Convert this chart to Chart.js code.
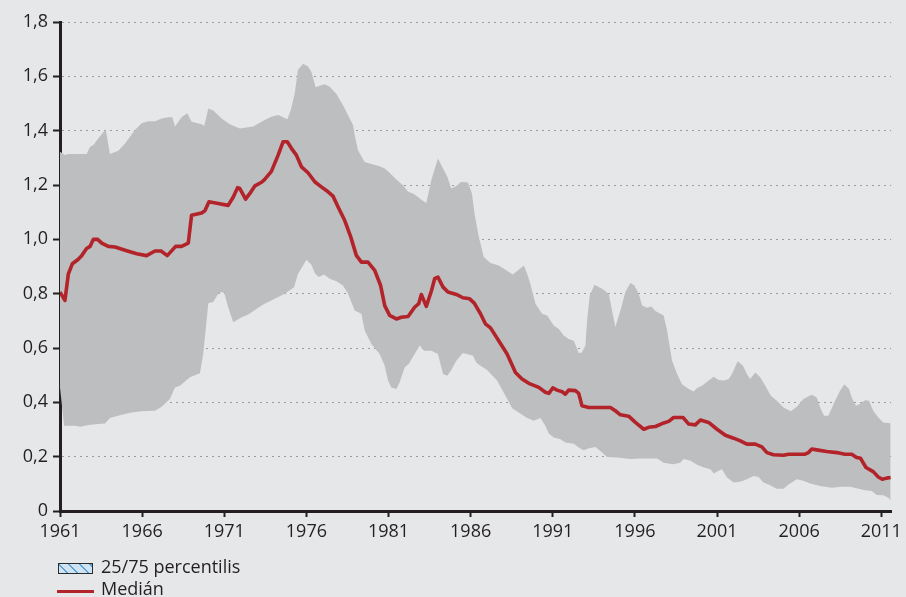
<!DOCTYPE html>
<html><head><meta charset="utf-8">
<script src="https://cdn.jsdelivr.net/npm/chart.js@4.4.0/dist/chart.umd.min.js"></script>
<style>
html,body{margin:0;padding:0;background:#e6e7e9;width:906px;height:597px;overflow:hidden;font-family:"Open Sans",sans-serif;}
#wrap{position:relative;width:906px;height:597px;}
canvas{position:absolute;left:0;top:0;}
.lgt{position:absolute;font-size:18px;line-height:18px;color:#231f20;white-space:nowrap;}
#lgBox{position:absolute;left:58px;top:563px;width:35px;height:11px;box-sizing:border-box;border:1.5px solid #2a2a2a;
 background:repeating-linear-gradient(45deg,#cfe3f2 0px,#cfe3f2 5px,#5ba3d4 5px,#5ba3d4 6.5px,#cfe3f2 6.5px,#cfe3f2 7.5px);}
#lgLine{position:absolute;left:57px;top:589.5px;width:37px;height:3.5px;background:#b3232a;}
</style></head><body>
<div id="wrap">
<canvas id="c" width="906" height="597"></canvas>
<div id="lgBox"></div><div class="lgt" id="lgT1" style="left:101px;top:557px;"></div>
<div id="lgLine"></div><div class="lgt" id="lgT2" style="left:101px;top:578.5px;"></div>
</div>
<script>
const seriesNames = ['25/75 percentilis', 'Medián'];
const yearTicks = [1961, 1966, 1971, 1976, 1981, 1986, 1991, 1996, 2001, 2006, 2011];
const valueTicks = [0, 0.2, 0.4, 0.6, 0.8, 1.0, 1.2, 1.4, 1.6, 1.8];

const medianYears = [1961.00,1961.30,1961.51,1961.75,1962.08,1962.32,1962.62,1962.83,1963.03,1963.29,
1963.54,1963.94,1964.35,1964.96,1965.67,1966.27,1966.78,1967.15,1967.53,1968.04,
1968.40,1968.81,1969.01,1969.62,1969.82,1970.07,1970.63,1971.24,1971.55,1971.81,
1971.95,1972.30,1972.56,1972.87,1973.27,1973.45,1973.87,1974.28,1974.58,1974.84,
1975.09,1975.39,1975.70,1976.10,1976.51,1976.91,1977.32,1977.62,1977.93,1978.33,
1978.70,1979.04,1979.35,1979.75,1980.16,1980.52,1980.77,1981.07,1981.48,1981.78,
1982.19,1982.59,1982.84,1983.00,1983.30,1983.61,1983.81,1984.01,1984.32,1984.62,
1985.13,1985.53,1985.94,1986.22,1986.60,1986.90,1987.21,1987.71,1988.22,1988.73,
1989.13,1989.54,1990.15,1990.55,1990.76,1991.00,1991.26,1991.57,1991.77,1991.97,
1992.38,1992.58,1992.78,1993.19,1994.51,1994.81,1995.12,1995.62,1996.03,1996.54,
1996.84,1997.25,1997.66,1998.06,1998.36,1998.93,1999.28,1999.68,1999.99,2000.49,
2001.00,2001.51,2002.01,2002.42,2002.82,2003.33,2003.73,2004.04,2004.44,2005.05,
2005.35,2006.36,2006.57,2006.77,2007.07,2007.68,2008.29,2008.79,2009.20,2009.50,
2009.74,2010.07,2010.51,2010.82,2011.06,2011.32,2011.57];
const medianValues = [0.806,0.775,0.873,0.91,0.925,0.94,0.966,0.974,1.0,1.0,
0.986,0.974,0.972,0.96,0.947,0.94,0.957,0.957,0.94,0.974,
0.974,0.986,1.089,1.097,1.105,1.138,1.132,1.125,1.156,1.19,
1.187,1.148,1.169,1.197,1.21,1.22,1.25,1.31,1.359,1.359,
1.335,1.31,1.267,1.245,1.212,1.193,1.175,1.159,1.119,1.07,
1.009,0.941,0.916,0.916,0.886,0.83,0.756,0.72,0.707,0.713,
0.716,0.75,0.763,0.797,0.753,0.81,0.855,0.861,0.824,0.806,
0.797,0.785,0.781,0.765,0.726,0.689,0.674,0.627,0.578,0.51,
0.486,0.47,0.455,0.437,0.433,0.453,0.445,0.439,0.43,0.445,
0.443,0.433,0.387,0.381,0.381,0.369,0.354,0.349,0.326,0.301,
0.308,0.311,0.322,0.33,0.344,0.344,0.32,0.317,0.335,0.326,
0.301,0.279,0.268,0.258,0.246,0.246,0.236,0.215,0.207,0.205,
0.209,0.209,0.215,0.228,0.225,0.219,0.215,0.209,0.209,0.197,
0.194,0.16,0.145,0.125,0.117,0.121,0.123];

const p75Years = [1961.00,1961.30,1961.51,1962.62,1962.83,1963.03,1963.33,1963.78,1964.04,1964.55,
1964.96,1965.26,1965.56,1965.97,1966.38,1966.78,1967.19,1967.59,1967.84,1968.00,
1968.40,1968.75,1969.01,1969.62,1969.78,1970.03,1970.33,1970.84,1971.34,1971.95,
1972.76,1973.27,1973.46,1973.87,1974.28,1974.58,1974.84,1975.05,1975.29,1975.49,
1975.80,1976.10,1976.30,1976.57,1976.81,1977.12,1977.42,1977.83,1978.23,1978.64,
1978.84,1978.94,1979.14,1979.55,1979.96,1980.46,1980.77,1981.07,1981.48,1981.88,
1982.19,1982.49,1982.80,1983.04,1983.30,1983.61,1984.01,1984.32,1984.58,1984.82,
1985.13,1985.43,1985.84,1986.08,1986.25,1986.50,1986.80,1987.21,1987.71,1988.12,
1988.57,1988.83,1989.24,1989.44,1989.64,1989.95,1990.35,1990.66,1991.06,1991.37,
1991.67,1991.97,1992.28,1992.48,1992.58,1992.78,1992.99,1993.09,1993.25,1993.54,
1994.00,1994.41,1994.61,1994.81,1995.12,1995.42,1995.73,1995.97,1996.23,1996.44,
1996.74,1997.00,1997.25,1997.75,1997.96,1998.26,1998.57,1998.87,1999.28,1999.58,
1999.79,2000.09,2000.49,2000.80,2001.10,2001.40,2001.71,2001.91,2002.26,2002.58,
2002.82,2003.02,2003.33,2003.63,2003.94,2004.28,2004.64,2005.05,2005.49,2005.86,
2006.26,2006.77,2007.07,2007.32,2007.52,2007.78,2008.19,2008.49,2008.75,2009.04,
2009.20,2009.46,2009.70,2010.01,2010.25,2010.51,2010.82,2011.12,2011.57];
const p75Values = [1.322,1.31,1.314,1.314,1.341,1.347,1.371,1.405,1.314,1.326,
1.353,1.378,1.402,1.427,1.435,1.435,1.445,1.449,1.449,1.415,
1.449,1.464,1.433,1.424,1.417,1.482,1.474,1.445,1.424,1.408,
1.415,1.433,1.439,1.451,1.458,1.449,1.442,1.476,1.537,1.624,
1.646,1.636,1.617,1.56,1.565,1.571,1.562,1.535,1.494,1.445,
1.421,1.384,1.328,1.285,1.277,1.269,1.261,1.245,1.22,1.199,
1.175,1.169,1.156,1.144,1.134,1.218,1.298,1.261,1.23,1.187,
1.196,1.212,1.209,1.169,1.09,1.009,0.935,0.913,0.904,0.888,
0.871,0.883,0.904,0.873,0.836,0.763,0.726,0.72,0.683,0.67,
0.646,0.633,0.627,0.597,0.581,0.584,0.609,0.701,0.793,0.833,
0.818,0.8,0.738,0.677,0.738,0.806,0.839,0.83,0.8,0.756,
0.748,0.753,0.736,0.72,0.664,0.554,0.504,0.467,0.449,0.44,
0.453,0.461,0.48,0.494,0.482,0.48,0.486,0.504,0.551,0.535,
0.504,0.486,0.51,0.492,0.461,0.424,0.406,0.381,0.367,0.384,
0.412,0.428,0.418,0.375,0.351,0.351,0.406,0.443,0.467,0.449,
0.418,0.387,0.394,0.408,0.406,0.369,0.344,0.326,0.323];

const p25Years = [1961.00,1961.25,1961.91,1962.22,1962.72,1963.33,1963.74,1964.04,1964.75,1965.36,
1965.97,1966.78,1967.19,1967.69,1968.00,1968.30,1968.91,1969.52,1969.72,1970.03,
1970.33,1970.63,1970.84,1971.00,1971.24,1971.55,1972.06,1972.46,1972.87,1973.27,
1973.46,1974.07,1974.68,1975.25,1975.49,1975.80,1976.00,1976.30,1976.51,1976.75,
1977.08,1977.42,1977.83,1978.23,1978.54,1978.94,1979.35,1979.55,1979.96,1980.46,
1980.77,1980.97,1981.17,1981.48,1981.68,1981.99,1982.23,1982.59,1982.90,1983.16,
1983.61,1984.01,1984.32,1984.58,1984.82,1985.13,1985.53,1985.88,1986.14,1986.34,
1986.60,1987.00,1987.61,1988.12,1988.53,1988.93,1989.44,1989.84,1990.25,1990.55,
1990.76,1991.06,1991.47,1991.77,1992.28,1992.58,1992.89,1993.19,1993.60,1994.00,
1994.31,1994.91,1995.73,1996.33,1997.35,1997.75,1998.32,1998.77,1998.97,1999.38,
1999.79,2000.19,2000.60,2000.80,2001.10,2001.30,2001.61,2002.01,2002.42,2002.82,
2003.23,2003.53,2003.83,2004.14,2004.64,2005.05,2005.35,2005.86,2006.26,2006.67,
2007.28,2007.98,2008.59,2009.10,2009.50,2010.01,2010.42,2010.72,2011.13,2011.43,
2011.57];
const p25Values = [0.455,0.314,0.314,0.31,0.317,0.32,0.322,0.342,0.354,0.363,
0.367,0.369,0.384,0.412,0.455,0.461,0.492,0.507,0.578,0.765,
0.769,0.8,0.806,0.802,0.75,0.695,0.713,0.723,0.74,0.756,
0.763,0.781,0.8,0.824,0.873,0.904,0.925,0.907,0.876,0.861,
0.871,0.855,0.846,0.83,0.8,0.738,0.726,0.664,0.615,0.578,
0.535,0.48,0.455,0.449,0.474,0.529,0.541,0.578,0.609,0.59,
0.59,0.578,0.504,0.498,0.519,0.553,0.582,0.576,0.572,0.547,
0.535,0.519,0.48,0.424,0.378,0.363,0.342,0.332,0.342,0.314,
0.285,0.271,0.264,0.252,0.248,0.234,0.224,0.231,0.236,0.215,
0.199,0.197,0.191,0.193,0.193,0.178,0.172,0.178,0.191,0.185,
0.17,0.16,0.154,0.138,0.148,0.154,0.123,0.105,0.108,0.117,
0.129,0.125,0.105,0.098,0.082,0.082,0.098,0.117,0.111,0.101,
0.092,0.086,0.089,0.089,0.084,0.076,0.074,0.059,0.058,0.049,
0.039];

const toPoints = (xs, ys) => xs.map((x, i) => ({x: x, y: ys[i]}));

document.getElementById('lgT1').textContent = seriesNames[0];
document.getElementById('lgT2').textContent = seriesNames[1];

const TEXT = '#231f20';
const FONT = {family: '"Open Sans", sans-serif', size: 18};

new Chart(document.getElementById('c'), {
  type: 'line',
  data: {
    datasets: [
      {label: seriesNames[1], data: toPoints(medianYears, medianValues), borderColor: '#b3232a', borderWidth: 3.6,
       pointRadius: 0, fill: false, tension: 0, borderJoinStyle: 'round', borderCapStyle: 'butt'},
      {label: '75', data: toPoints(p75Years, p75Values), borderColor: 'rgba(0,0,0,0)', borderWidth: 0,
       backgroundColor: '#bdbec0', pointRadius: 0, fill: 2, tension: 0},
      {label: '25', data: toPoints(p25Years, p25Values), borderColor: 'rgba(0,0,0,0)', borderWidth: 0,
       pointRadius: 0, fill: false, tension: 0}
    ]
  },
  options: {
    responsive: false, animation: false, devicePixelRatio: 1,
    layout: {padding: {top: 22, right: 13, left: 0, bottom: 0}},
    plugins: {legend: {display: false}, tooltip: {enabled: false}},
    scales: {
      x: {
        type: 'linear', min: 1961, max: 2011.6,
        afterBuildTicks: s => { s.ticks = yearTicks.map(v => ({value: v})); },
        afterFit: s => { s.height = 86; },
        ticks: {font: FONT, color: TEXT, padding: 4, maxRotation: 0, autoSkip: false, callback: v => String(v)},
        grid: {drawOnChartArea: false, drawTicks: true, tickLength: 6, tickColor: TEXT, tickWidth: 2},
        border: {display: true, color: TEXT, width: 3}
      },
      y: {
        min: 0, max: 1.8,
        afterBuildTicks: s => { s.ticks = valueTicks.map(v => ({value: v})); },
        afterFit: s => { s.width = 60; },
        ticks: {font: FONT, color: TEXT, padding: 5,
          callback: v => v === 0 ? '0' : v.toFixed(1).replace('.', ',')},
        grid: {color: c => (c.tick && c.tick.value === 0) ? 'rgba(0,0,0,0)' : '#9a9b9d', lineWidth: 1,
          drawTicks: true, tickLength: 7, tickColor: TEXT, tickWidth: 2, tickBorderDash: []},
        border: {display: true, color: TEXT, width: 3, dash: [2, 4]}
      }
    }
  }
});
</script>
</body></html>
